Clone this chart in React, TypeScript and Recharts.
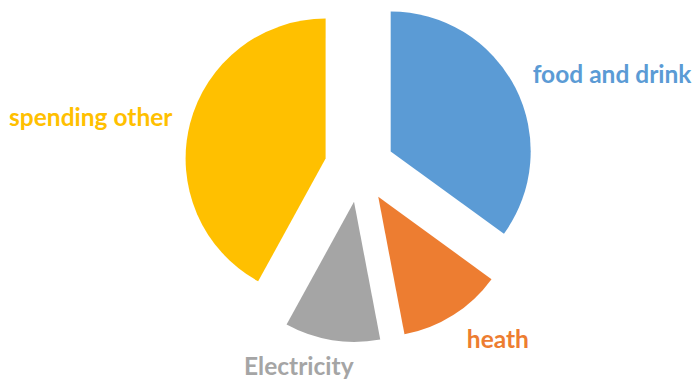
import React from 'react';
import { PieChart, Pie, Cell, Sector } from 'recharts';

const categories = ['food and drink', 'heath', 'Electricity', 'spending other'];
const values = [35, 12, 11, 42];
const colors = ['#5B9BD5', '#ED7D31', '#A5A5A5', '#FFC000'];

const data = categories.map((name, i) => ({ name, value: values[i] }));

const RAD = Math.PI / 180;
const EXPLODE = 35;
const LABEL_GAP = 16;

const LABEL_NUDGE: Record<string, [number, number]> = {
  'food and drink': [3, 2],
  heath: [5, 19],
  Electricity: [24, 19],
  'spending other': [-2, 6],
};

function ExplodedSector(props: any) {
  const { cx, cy, midAngle, innerRadius, outerRadius, startAngle, endAngle, fill } = props;
  const dx = EXPLODE * Math.cos(-midAngle * RAD);
  const dy = EXPLODE * Math.sin(-midAngle * RAD);
  return (
    <Sector
      cx={cx + dx}
      cy={cy + dy}
      innerRadius={innerRadius}
      outerRadius={outerRadius}
      startAngle={startAngle}
      endAngle={endAngle}
      fill={fill}
      stroke="none"
    />
  );
}

function renderLabel(props: any) {
  const { cx, cy, midAngle, outerRadius, name, index } = props;
  const ux = Math.cos(-midAngle * RAD);
  const uy = Math.sin(-midAngle * RAD);
  const r = EXPLODE + outerRadius + LABEL_GAP;
  const nudge = LABEL_NUDGE[name] || [0, 0];
  const x = cx + r * ux + nudge[0];
  const y = cy + r * uy + nudge[1];
  return (
    <text
      x={x}
      y={y}
      textAnchor={ux >= 0 ? 'start' : 'end'}
      fill={colors[index]}
      fontFamily="Lato, sans-serif"
      fontWeight={700}
      fontSize={24.5}
    >
      {name}
    </text>
  );
}

export default function App() {
  return (
    <div style={{ position: 'absolute', left: 0, top: 0, width: 692, height: 381, background: '#fff' }}>
      <PieChart width={692} height={381} margin={{ top: 0, right: 0, bottom: 0, left: 0 }}>
        <Pie
          data={data}
          dataKey="value"
          nameKey="name"
          cx={359.5}
          cy={167.3}
          innerRadius={0}
          outerRadius={140}
          startAngle={90}
          endAngle={-270}
          stroke="none"
          isAnimationActive={false}
          shape={ExplodedSector}
          activeShape={ExplodedSector}
          inactiveShape={ExplodedSector}
          label={renderLabel}
          labelLine={false}
        >
          {data.map((d, i) => (
            <Cell key={d.name} fill={colors[i]} />
          ))}
        </Pie>
      </PieChart>
    </div>
  );
}
